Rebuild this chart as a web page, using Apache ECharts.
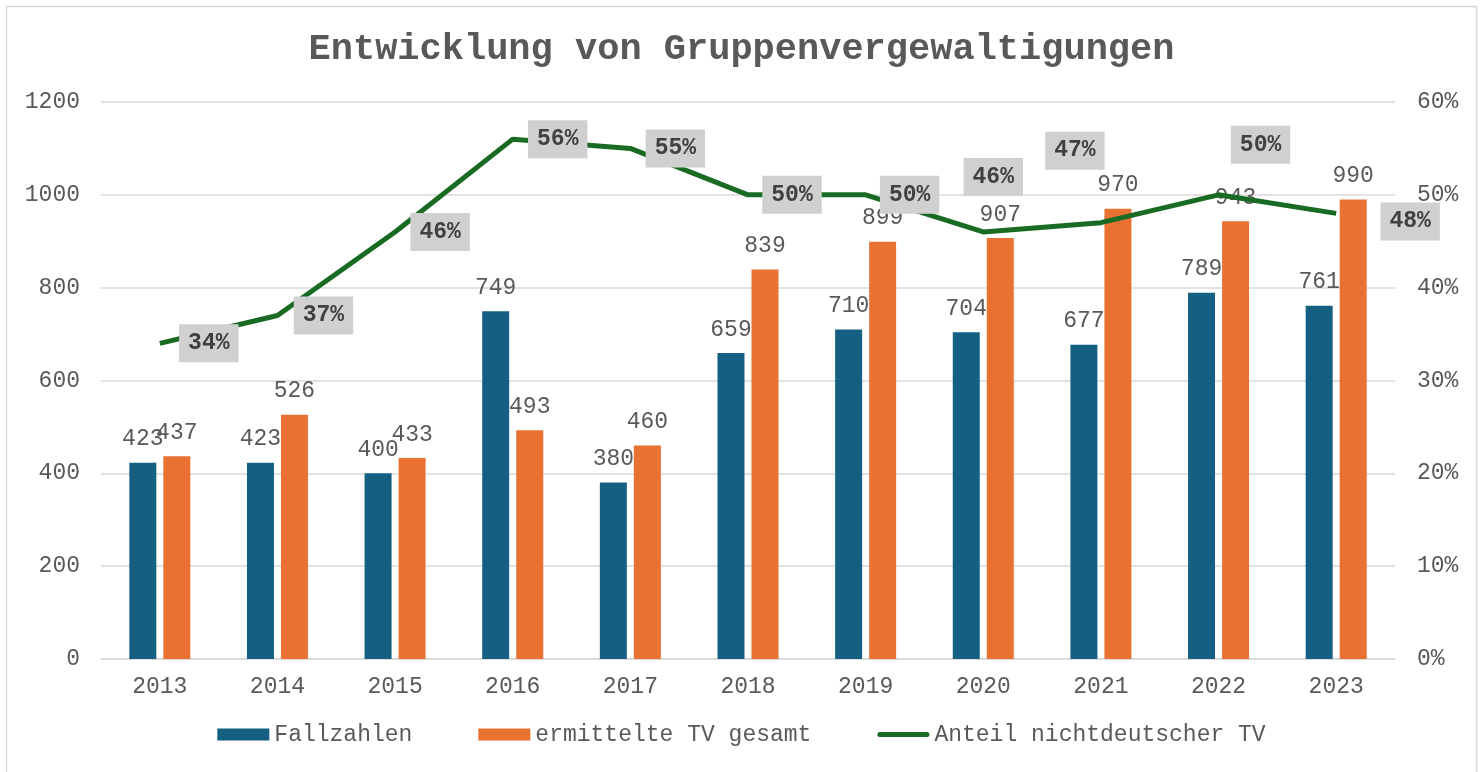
<!DOCTYPE html>
<html>
<head>
<meta charset="utf-8">
<script src="https://cdn.jsdelivr.net/npm/echarts@6/dist/echarts.min.js"></script>
<style>
html, body { margin: 0; padding: 0; background: #fff; }
#chart { width: 1483px; height: 772px; }
</style>
</head>
<body>
<div id="chart"></div>
<script>
var years = ['2013', '2014', '2015', '2016', '2017', '2018', '2019', '2020', '2021', '2022', '2023'];
var fallzahlen = [423, 423, 400, 749, 380, 659, 710, 704, 677, 789, 761];
var tvGesamt = [437, 526, 433, 493, 460, 839, 899, 907, 970, 943, 990];
var anteil = [34, 37, 46, 56, 55, 50, 50, 46, 47, 50, 48];
// where each share label sits next to its point (dx, dy in px)
var anteilLabelOffset = [[49, 0], [46, 0], [45, 0], [45, 0], [45, 0], [44, 0], [44, 0], [10, -55], [-26, -72], [42, -50], [74, 8]];

var font = '"Liberation Mono", "Courier New", monospace';
var grey = '#595959';

var chart = echarts.init(document.getElementById('chart'));

var anteilData = anteil.map(function (v, i) {
    return {
        value: v,
        label: { offset: anteilLabelOffset[i] }
    };
});

var option = {
    animation: false,
    textStyle: { fontFamily: font },
    title: {
        text: 'Entwicklung von Gruppenvergewaltigungen',
        left: 'center',
        top: 26,
        textStyle: { fontFamily: font, fontSize: 37, fontWeight: 'bold', color: grey }
    },
    graphic: [{
        type: 'rect',
        shape: { x: 6.5, y: 6.5, width: 1470, height: 800 },
        style: { fill: 'none', stroke: '#d9d9d9', lineWidth: 1.5 },
        silent: true
    }],
    legend: {
        bottom: 21,
        left: 'center',
        itemWidth: 52,
        itemHeight: 12,
        itemGap: 66,
        textStyle: { fontFamily: font, fontSize: 23, color: grey },
        data: [
            { name: 'Fallzahlen', icon: 'rect' },
            { name: 'ermittelte TV gesamt', icon: 'rect' },
            { name: 'Anteil nichtdeutscher TV', icon: 'path://M2.5,0 L49.5,0 A2.5,2.5 0 0 1 49.5,5 L2.5,5 A2.5,2.5 0 0 1 2.5,0 Z' }
        ]
    },
    grid: { left: 101, right: 88, top: 102, bottom: 113 },
    xAxis: {
        type: 'category',
        data: years,
        axisTick: { show: false },
        axisLine: { lineStyle: { color: '#d9d9d9', width: 1.5 } },
        axisLabel: { fontFamily: font, fontSize: 23, color: grey, margin: 16 }
    },
    yAxis: [{
        type: 'value',
        min: 0, max: 1200, interval: 200,
        axisLine: { show: false },
        axisTick: { show: false },
        splitLine: { lineStyle: { color: '#d9d9d9', width: 1.5 } },
        axisLabel: {
            fontFamily: font, fontSize: 23, color: grey, margin: 21,
            formatter: function (v) { return String(v); }
        }
    }, {
        type: 'value',
        min: 0, max: 60, interval: 10,
        axisLine: { show: false },
        axisTick: { show: false },
        splitLine: { show: false },
        axisLabel: { fontFamily: font, fontSize: 23, color: grey, margin: 22, formatter: '{value}%' }
    }],
    series: [{
        name: 'Fallzahlen',
        type: 'bar',
        data: fallzahlen,
        barWidth: 27,
        barGap: '26%',
        itemStyle: { color: '#156082' },
        label: { show: true, position: 'top', distance: 12, fontFamily: font, fontSize: 23, color: grey }
    }, {
        name: 'ermittelte TV gesamt',
        type: 'bar',
        data: tvGesamt,
        barWidth: 27,
        itemStyle: { color: '#e97132' },
        label: { show: true, position: 'top', distance: 12, fontFamily: font, fontSize: 23, color: grey }
    }, {
        name: 'Anteil nichtdeutscher TV',
        type: 'line',
        yAxisIndex: 1,
        data: anteilData,
        symbol: 'circle',
        symbolSize: 0,
        showSymbol: true,
        z: 5,
        lineStyle: { color: '#196b24', width: 5 },
        itemStyle: { color: '#196b24' },
        label: {
            show: true,
            position: 'inside',
            align: 'center',
            verticalAlign: 'middle',
            formatter: '{c}%',
            fontFamily: font,
            fontSize: 23,
            fontWeight: 'bold',
            color: '#404040',
            backgroundColor: '#d0d0d0',
            padding: [8, 9, 7, 9]
        }
    }]
};

chart.setOption(option);
</script>
</body>
</html>
